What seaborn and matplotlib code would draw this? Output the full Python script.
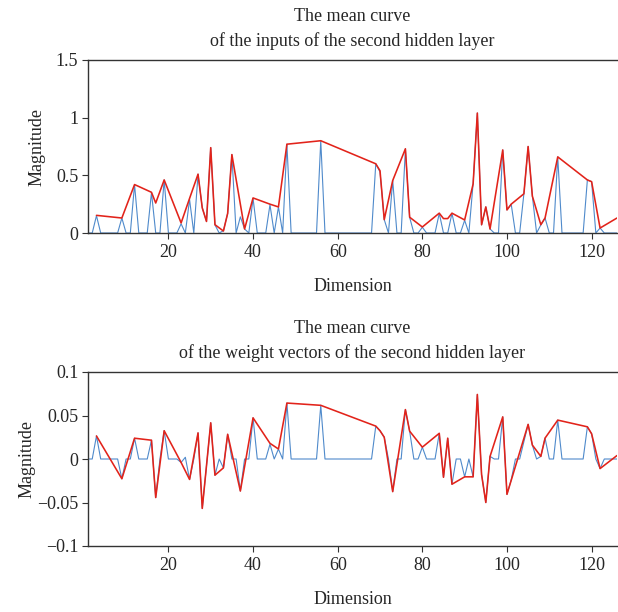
import numpy as np
import pandas as pd
import matplotlib
matplotlib.use("Agg")
import matplotlib.pyplot as plt
import seaborn as sns

sns.set_style("white")
plt.rcParams['font.family'] = ['Liberation Serif', 'DejaVu Serif']

dims = list(range(1, 127))

# Top panel: blue (full series, dimensions 1..126)
top_blue = [0, 0, 0.15, 0, 0, 0, 0, 0, 0.13, 0,
            0, 0.42, 0, 0, 0, 0.35, 0, 0, 0.46, 0,
            0, 0, 0.08, 0, 0.29, 0, 0.51, 0.22, 0.10, 0.74,
            0.07, 0, 0.02, 0.17, 0.68, 0, 0.14, 0.035, 0, 0.30,
            0, 0, 0, 0.245, 0, 0.226, 0, 0.77, 0, 0,
            0, 0, 0, 0, 0, 0.80, 0, 0, 0, 0,
            0, 0, 0, 0, 0, 0, 0, 0, 0.60, 0.53,
            0.116, 0, 0.455, 0, 0, 0.73, 0.136, 0, 0, 0.05,
            0, 0, 0, 0.17, 0, 0, 0.17, 0, 0, 0.11,
            0, 0.43, 1.04, 0.07, 0.226, 0.035, 0, 0, 0.72, 0.20,
            0.25, 0, 0, 0.34, 0.75, 0.32, 0, 0.07, 0.13, 0,
            0, 0.66, 0, 0, 0, 0, 0, 0, 0.46, 0.445,
            0, 0.043, 0, 0, 0, 0]

# Top panel: red curve
top_red_x = [3, 9, 12, 16, 17, 19, 23, 25, 27, 28, 29, 30, 31, 33, 34, 35, 38, 40,
             44, 46, 48, 56, 69, 70, 71, 73, 76, 77, 80, 84, 85, 86, 87, 90, 92, 93,
             94, 95, 96, 99, 100, 101, 104, 105, 106, 108, 109, 112, 119, 120, 122, 126]
top_red_y = [0.153, 0.13, 0.42, 0.353, 0.26, 0.46, 0.087, 0.30, 0.51, 0.217, 0.10, 0.74,
             0.072, 0.017, 0.17, 0.68, 0.035, 0.304, 0.25, 0.226, 0.77, 0.80, 0.60, 0.54,
             0.116, 0.455, 0.73, 0.137, 0.052, 0.172, 0.125, 0.125, 0.172, 0.113, 0.425,
             1.04, 0.072, 0.226, 0.035, 0.72, 0.20, 0.25, 0.34, 0.75, 0.32, 0.072, 0.13,
             0.66, 0.46, 0.445, 0.043, 0.13]

# Bottom panel: blue (full series)
bot_blue = [0, 0, 0.0265, 0, 0, 0, 0, 0, -0.0227, 0,
            0, 0.0239, 0, 0, 0, 0.0216, -0.0443, 0, 0.0325, 0,
            0, 0, -0.004, 0.002, -0.0235, 0, 0.030, -0.0568, -0.008, 0.0416,
            -0.0186, 0, -0.0102, 0.0284, 0, 0, -0.0368, 0, 0, 0.0473,
            0, 0, 0, 0.017, 0, 0.0114, 0, 0.0643, 0, 0,
            0, 0, 0, 0, 0, 0.0617, 0, 0, 0, 0,
            0, 0, 0, 0, 0, 0, 0, 0, 0.0378, 0.0325,
            0.025, 0, -0.0375, 0, 0, 0.0568, 0.032, 0, 0, 0.0136,
            0, 0, 0, 0.0295, -0.021, 0.0239, -0.029, 0, 0, -0.0205,
            0, -0.0205, 0.0742, -0.0178, -0.05, 0.003, 0, 0, 0.0484, -0.0406,
            -0.024, 0, 0, 0.02, 0.0398, 0.016, 0, 0.003, 0.024, 0,
            0, 0.0447, 0, 0, 0, 0, 0, 0, 0.037, 0.029,
            0, -0.011, 0, 0, 0, 0]

# Bottom panel: red curve
bot_red_x = [3, 9, 12, 16, 17, 19, 23, 25, 27, 28, 30, 31, 33, 34, 37, 40, 44, 46, 48,
             56, 69, 70, 71, 73, 76, 77, 80, 84, 85, 86, 87, 90, 92, 93, 94, 95, 96, 99,
             100, 105, 106, 108, 109, 112, 119, 120, 122, 126]
bot_red_y = [0.0265, -0.0227, 0.0239, 0.0216, -0.0443, 0.0325, -0.004, -0.0235, 0.030,
             -0.0568, 0.0416, -0.0186, -0.0102, 0.0284, -0.0368, 0.0473, 0.018, 0.0115,
             0.0643, 0.0617, 0.0378, 0.0325, 0.025, -0.0375, 0.0568, 0.032, 0.0136,
             0.0295, -0.021, 0.0239, -0.029, -0.0205, -0.0205, 0.0742, -0.0178, -0.05,
             0.003, 0.0484, -0.0406, 0.0398, 0.016, 0.003, 0.024, 0.0447, 0.037, 0.029,
             -0.011, 0.004]

top_title = "The mean curve\nof the inputs of the second hidden layer"
bot_title = "The mean curve\nof the weight vectors of the second hidden layer"
x_ticks = [20, 40, 60, 80, 100, 120]
top_yticks = [0, 0.5, 1, 1.5]
top_ylabels = ["0", "0.5", "1", "1.5"]
bot_yticks = [-0.1, -0.05, 0, 0.05, 0.1]
bot_ylabels = ["\u22120.1", "\u22120.05", "0", "0.05", "0.1"]

W, H = 618, 612
fig = plt.figure(figsize=(W / 100, H / 100), dpi=100)
ax1 = fig.add_axes([88 / W, 1 - 233 / H, (617 - 88) / W, (233 - 60) / H])
ax2 = fig.add_axes([88 / W, 1 - 546 / H, (617 - 88) / W, (546 - 372) / H])

blue = "#4f8acb"
red = "#e2231a"
fs = 13

def draw(ax, blue_vals, rx, ry, title, yt, yl, ylim, ylab_x):
    sns.lineplot(x=dims, y=blue_vals, ax=ax, color=blue, linewidth=0.8,
                 estimator=None, sort=False)
    sns.lineplot(x=rx, y=ry, ax=ax, color=red, linewidth=1.15,
                 estimator=None, sort=False)
    ax.set_xlim(1, 126)
    ax.set_ylim(*ylim)
    ax.set_xticks(x_ticks)
    ax.set_xticklabels([str(t) for t in x_ticks], fontsize=fs)
    ax.set_yticks(yt)
    ax.set_yticklabels(yl, fontsize=fs)
    ax.set_xlabel("Dimension", fontsize=fs, labelpad=12)
    ax.set_ylabel("Magnitude", fontsize=fs)
    ax.yaxis.set_label_coords(ylab_x, 0.5)
    ax.set_title(title, fontsize=fs, pad=10, linespacing=1.5)
    for s in ax.spines.values():
        s.set_color("#333333")
        s.set_linewidth(1.0)
    ax.spines['right'].set_visible(False)
    ax.tick_params(axis='both', direction='out', length=4, width=0.8,
                   color="#333333", bottom=True, left=True)
    ax.tick_params(axis='x', pad=4)
    ax.tick_params(axis='y', pad=3)

draw(ax1, top_blue, top_red_x, top_red_y, top_title, top_yticks, top_ylabels,
     (0, 1.5), (46 - 88) / 529)
draw(ax2, bot_blue, bot_red_x, bot_red_y, bot_title, bot_yticks, bot_ylabels,
     (-0.1, 0.1), (36 - 88) / 529)

fig.savefig("out.png", dpi=100)
